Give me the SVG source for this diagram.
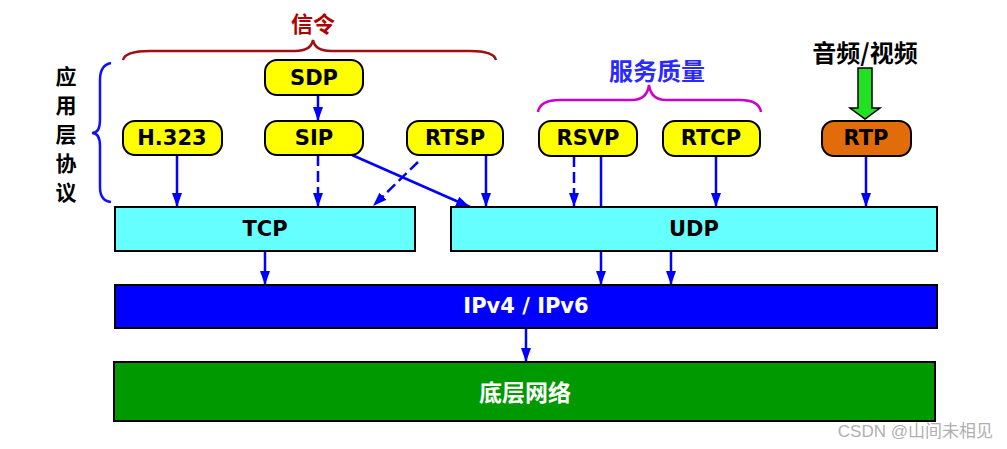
<svg xmlns="http://www.w3.org/2000/svg" width="1007" height="449" viewBox="0 0 1007 449">
<style>
.node rect{stroke:#000;stroke-width:2}
.lbl{font-family:"DejaVu Sans","Noto Sans CJK SC",sans-serif;font-weight:bold;font-size:21px;text-anchor:middle;dominant-baseline:central}
.cjk{font-family:"Noto Sans CJK SC","DejaVu Sans",sans-serif;font-weight:bold;text-anchor:middle;dominant-baseline:central}
.conn line{stroke:#0000ff;stroke-width:2.5;fill:none}
.arr{marker-end:url(#ah)}
.dash{stroke-dasharray:11 5}
.brace{fill:none;stroke-width:2.5}
</style>
<defs>
<marker id="ah" viewBox="0 0 14 10" refX="14" refY="5" markerWidth="14" markerHeight="10" markerUnits="userSpaceOnUse" orient="auto">
<path d="M0,0 L14,5 L0,10 z" fill="#0000ff"/>
</marker>
</defs>
<rect width="1007" height="449" fill="#fff"/>

<g id="connectors" class="conn">
<line class="arr" x1="318" y1="95" x2="318" y2="121"/>
<line class="arr" x1="177" y1="155" x2="177" y2="207"/>
<line class="arr dash" x1="318" y1="155" x2="318" y2="207"/>
<line class="arr dash" x1="418" y1="162" x2="373" y2="206"/>
<line class="arr" x1="352" y1="155" x2="470" y2="207"/>
<line class="arr" x1="486" y1="155" x2="486" y2="207"/>
<line class="arr dash" x1="574" y1="156" x2="574" y2="207"/>
<line x1="601" y1="156" x2="601" y2="207"/>
<line class="arr" x1="716" y1="156" x2="716" y2="207"/>
<line class="arr" x1="866" y1="156" x2="866" y2="207"/>
<line class="arr" x1="265" y1="251" x2="265" y2="285"/>
<line class="arr" x1="601" y1="251" x2="601" y2="285"/>
<line class="arr" x1="671" y1="251" x2="671" y2="285"/>
<line class="arr" x1="526" y1="328" x2="526" y2="362"/>
</g>

<g id="brace-signal">
<path class="brace" stroke="#a01010" d="M123,60 Q125,51 150,51 L295,51 Q311,51 313,40 Q315,51 331,51 L470,51 Q494,51 496,60"/>
<text class="cjk" x="313" y="22" font-size="22" fill="#b00000">信令</text>
</g>
<g id="brace-qos">
<path class="brace" stroke="#cc00cc" d="M538,112 Q540,100 560,100 L632,100 Q647,100 649,85 Q651,100 666,100 L740,100 Q759,100 761,112"/>
<text class="cjk" x="657" y="69" font-size="24" fill="#2a2aff">服务质量</text>
</g>
<g id="brace-app">
<path class="brace" stroke="#1010ff" d="M111,63 Q100,65 100,80 L100,120 Q100,133 92,133 Q100,133 100,146 L100,187 Q100,201 111,202"/>
<text class="cjk" x="66" y="75" font-size="21" fill="#000">应</text>
<text class="cjk" x="66" y="104" font-size="21" fill="#000">用</text>
<text class="cjk" x="66" y="133" font-size="21" fill="#000">层</text>
<text class="cjk" x="66" y="162" font-size="21" fill="#000">协</text>
<text class="cjk" x="66" y="191" font-size="21" fill="#000">议</text>
</g>
<g id="av">
<text class="cjk" x="865" y="51" font-size="24" fill="#000">音频/视频</text>
<polygon points="858,68 872,68 872,108 880,108 865,119 850,108 858,108" fill="#22e022" stroke="#000" stroke-width="1.5"/>
</g>

<g id="SDP" class="node"><rect x="265" y="60" width="98" height="35" rx="12" fill="#ffff00"/><text class="lbl" x="314" y="78">SDP</text></g>
<g id="H323" class="node"><rect x="123" y="121" width="99" height="34" rx="12" fill="#ffff00"/><text class="lbl" x="172" y="138">H.323</text></g>
<g id="SIP" class="node"><rect x="265" y="121" width="98" height="34" rx="12" fill="#ffff00"/><text class="lbl" x="314" y="138">SIP</text></g>
<g id="RTSP" class="node"><rect x="407" y="121" width="96" height="34" rx="12" fill="#ffff00"/><text class="lbl" x="455" y="138">RTSP</text></g>
<g id="RSVP" class="node"><rect x="539" y="121" width="98" height="35" rx="12" fill="#ffff00"/><text class="lbl" x="588" y="138">RSVP</text></g>
<g id="RTCP" class="node"><rect x="663" y="121" width="97" height="35" rx="12" fill="#ffff00"/><text class="lbl" x="711" y="138">RTCP</text></g>
<g id="RTP" class="node"><rect x="822" y="121" width="89" height="35" rx="12" fill="#e36c0a"/><text class="lbl" x="866" y="138">RTP</text></g>
<g id="TCP" class="node"><rect x="115" y="207" width="300" height="44" fill="#66ffff"/><text class="lbl" x="265" y="229">TCP</text></g>
<g id="UDP" class="node"><rect x="451" y="207" width="486" height="44" fill="#66ffff"/><text class="lbl" x="694" y="229">UDP</text></g>
<g id="IP" class="node"><rect x="115" y="285" width="822" height="43" fill="#0000ff"/><text class="lbl" x="526" y="306" fill="#fff">IPv4 / IPv6</text></g>
<g id="NET" class="node"><rect x="114" y="362" width="821" height="59" fill="#009900"/><text class="cjk" x="525" y="391" font-size="23" fill="#fff">底层网络</text></g>

<text x="993" y="437" text-anchor="end" font-family="'Liberation Sans','Noto Sans CJK SC',sans-serif" font-size="17" fill="#b0b0b0">CSDN @山间未相见</text>
</svg>
